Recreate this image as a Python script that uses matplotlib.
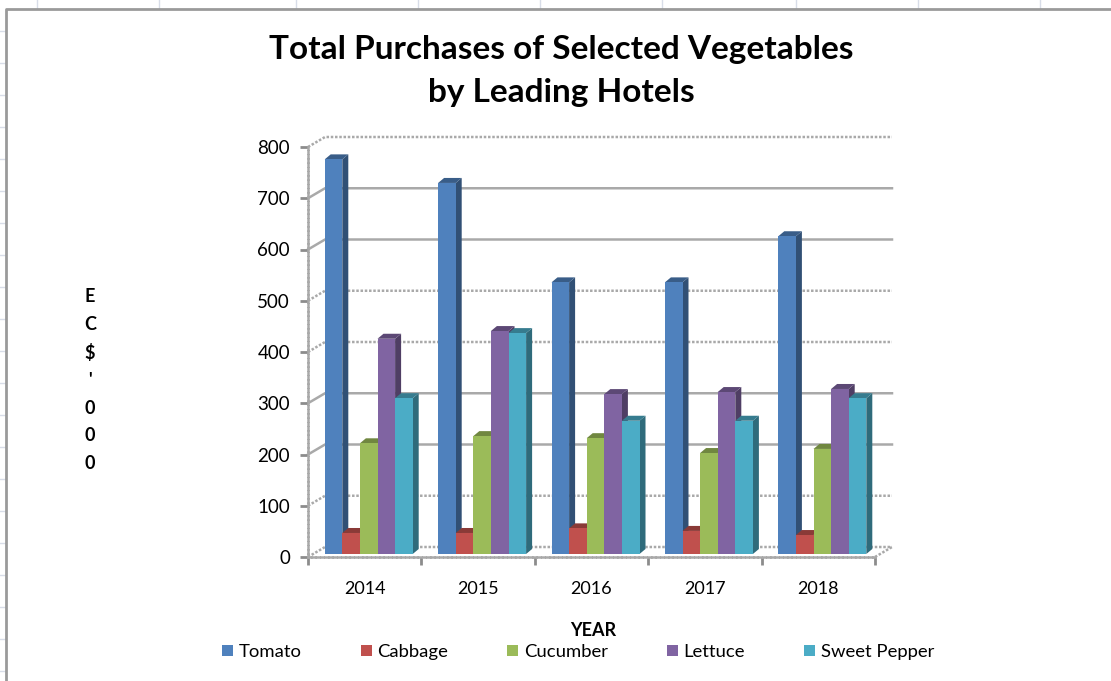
#!/usr/bin/env python3
"""Clustered pseudo-3D bar chart of vegetable purchases, shown as an Excel chart."""

import matplotlib
matplotlib.use('Agg')
import matplotlib.pyplot as plt
from matplotlib.lines import Line2D
from matplotlib.patches import Polygon, Patch
from matplotlib.colors import to_rgb

plt.rcParams['font.family'] = ['Lato', 'DejaVu Sans']

years = ['2014', '2015', '2016', '2017', '2018']
tomato = [770, 724, 530, 530, 620]
cabbage = [41, 41, 50, 45, 37]
cucumber = [216, 230, 226, 197, 205]
lettuce = [420, 435, 312, 316, 322]
sweet_pepper = [304, 431, 260, 260, 304]

series_names = ['Tomato', 'Cabbage', 'Cucumber', 'Lettuce', 'Sweet Pepper']
series_values = [tomato, cabbage, cucumber, lettuce, sweet_pepper]
colors = ['#4f81bd', '#c0504d', '#9bbb59', '#8064a2', '#4bacc6']
y_ticks = [0, 100, 200, 300, 400, 500, 600, 700, 800]
solid_grid = [200, 300, 600, 700]

W, H = 1111, 681
GRID_COLOR = '#a9a9a9'
DOTTED = (0, (1, 0.7))

fig = plt.figure(figsize=(W / 100, H / 100), dpi=100, facecolor='white')
# plot front plane in pixels: x 308-875, y 147-557
ax = fig.add_axes([308 / W, 1 - 557 / H, 567 / W, 410 / H])
ax.set_xlim(0, 5)
ax.set_ylim(0, 800)
ax.patch.set_visible(False)

# pixel sizes expressed in data units
px_x = 5 / 567
px_y = 800 / 410
back_dx, back_dy = 17 * px_x, 10 * px_y
base_dx, base_dy = 4 * px_x, 3 * px_y
bar_dx, bar_dy = 6 * px_x, 5 * px_y
bar_width = 17.6 * px_x

# back wall grid lines with the short diagonal on the left wall
for tick in y_ticks:
    ls = '-' if tick in solid_grid else DOTTED
    ax.plot([0, back_dx, 5 + back_dx], [tick, tick + back_dy, tick + back_dy],
            color=GRID_COLOR, lw=1.8, ls=ls, clip_on=False, zorder=1)
# right end of the floor
ax.plot([5, 5 + back_dx], [0, back_dy], color=GRID_COLOR, lw=1.8, ls=DOTTED,
        clip_on=False, zorder=1)


def shade(color, factor):
    return tuple(c * factor for c in to_rgb(color))


# bars go left to right so that each one covers the side of its neighbour
z = 3
for j, (values, color) in enumerate(zip(series_values, colors)):
    for i, value in enumerate(values):
        left = i + 0.5 + (j - 2.5) * bar_width + base_dx
        right = left + bar_width
        top = base_dy + value
        ax.add_patch(Polygon([(right, base_dy), (right + bar_dx, base_dy + bar_dy),
                              (right + bar_dx, top + bar_dy), (right, top)],
                             closed=True, fc=shade(color, 0.62), ec='none',
                             clip_on=False, zorder=z))
        ax.add_patch(Polygon([(left, top), (left + bar_dx, top + bar_dy),
                              (right + bar_dx, top + bar_dy), (right, top)],
                             closed=True, fc=shade(color, 0.72), ec='none',
                             clip_on=False, zorder=z))
        ax.bar(left, value, width=bar_width, bottom=base_dy, align='edge',
               color=color, edgecolor='none', clip_on=False, zorder=z + 0.5)
    z += 1

# axes
for side in ['top', 'right']:
    ax.spines[side].set_visible(False)
for side in ['left', 'bottom']:
    ax.spines[side].set_color(GRID_COLOR)
    ax.spines[side].set_linewidth(1.8)
    ax.spines[side].set_linestyle(DOTTED)

ax.set_yticks(y_ticks)
ax.tick_params(axis='y', length=6, width=2, color='#8c8c8c', labelsize=13.5, pad=7)
ax.set_xticks(range(6))
ax.set_xticklabels([])
ax.tick_params(axis='x', which='major', length=6, width=2, color='#8c8c8c')
ax.set_xticks([i + 0.5 for i in range(5)], minor=True)
ax.set_xticklabels(years, minor=True, fontsize=13)
ax.tick_params(axis='x', which='minor', length=0, pad=17)

ax.set_xlabel('YEAR', fontsize=13, fontweight='bold')
ax.xaxis.set_label_coords((593 - 308) / 567, (557 - 631) / 410)
ax.xaxis.label.set_verticalalignment('center')
ax.set_ylabel("E\nC\n$\n'\n0\n0\n0", rotation=0, fontsize=13, fontweight='bold',
              linespacing=1.75, ha='center', va='center')
ax.yaxis.set_label_coords((90 - 308) / 567, (557 - 380) / 410)

fig.suptitle('Total Purchases of Selected Vegetables\nby Leading Hotels',
             x=561 / W, y=1 - 71 / H, va='center', fontsize=24, fontweight='bold',
             linespacing=1.6, color='black')

handles = [Patch(facecolor=c, edgecolor='none', label=n) for c, n in zip(colors, series_names)]
fig.legend(handles=handles, ncols=5, loc='center', bbox_to_anchor=(578 / W, 1 - 652 / H),
           frameon=False, fontsize=13.3, handlelength=0.6, handleheight=0.6,
           handletextpad=0.3, columnspacing=3.2)

# spreadsheet cells around the chart and the chart frame
cell_color = '#d8dde8'
for x in [37, 159, 296, 418, 540, 662, 796, 918, 1040]:
    fig.add_artist(Line2D([x / W, x / W], [1 - 8 / H, 1], color=cell_color, lw=1))
for y in range(31, H, 32):
    fig.add_artist(Line2D([0, 5 / W], [1 - y / H, 1 - y / H], color=cell_color, lw=1))
fig.add_artist(Line2D([5.5 / W, 5.5 / W, 1], [0, 1 - 9 / H, 1 - 9 / H], color='#9a9a9a', lw=2))

fig.savefig('out.png', dpi=100, facecolor='white')
